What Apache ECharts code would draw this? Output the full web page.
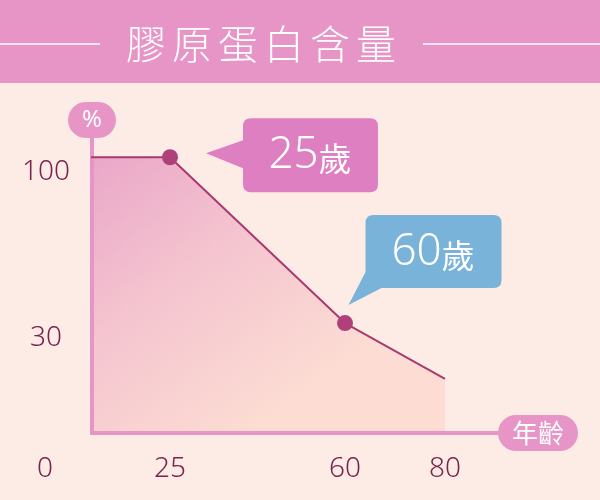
<!DOCTYPE html>
<html>
<head>
<meta charset="utf-8">
<title>膠原蛋白含量</title>
<script src="https://cdn.jsdelivr.net/npm/echarts@6/dist/echarts.min.js"></script>
<style>
html, body { margin: 0; padding: 0; background: #fdebe5; }
#main { width: 600px; height: 500px; }
</style>
</head>
<body>
<div id="main"></div>
<script>
// 数据
var titleText = '膠原蛋白含量';
var ages = [0, 25, 60, 80];
var percents = [100, 100, 30, 20];
var markedAges = [25, 60];
var xTicks = [25, 60, 80];
var yTicks = [30, 100];
var calloutTexts = ['25', '60'];
var calloutUnit = '歲';

var numFont = '"Noto Sans", "Noto Sans CJK TC", sans-serif';
var cjkFont = '"Noto Sans CJK TC", sans-serif';
var pink = '#e795c7';
var labelColor = '#7a2350';

var myChart = echarts.init(document.getElementById('main'));

// 折线数据, 只在有说明框的年龄上画圆点
var lineData = ages.map(function (a, i) {
    return {
        value: [a, percents[i]],
        symbol: markedAges.indexOf(a) >= 0 ? 'circle' : 'none'
    };
});

// 对话框 (带尖角) 的形状
var bubblePaths = [
    'path://M45 0H164Q172 0 172 8V66Q172 74 164 74H45Q37 74 37 66V50L0 35L37 22V8Q37 0 45 0Z',
    'path://M25 0H145Q153 0 153 8V65Q153 73 145 73H33L0 90L17 57V8Q17 0 25 0Z'
];
var bubbleStyle = [
    { size: [172, 74], offset: [122, -2], color: '#de7fc1', labelOffset: [18, 0] },
    { size: [153, 90], offset: [80, -63], color: '#7ab3d9', labelOffset: [8, -8] }
];

var markData = markedAges.map(function (a, i) {
    var b = bubbleStyle[i];
    return {
        coord: [a, percents[ages.indexOf(a)]],
        symbol: bubblePaths[i],
        symbolSize: b.size,
        symbolOffset: b.offset,
        itemStyle: { color: b.color },
        label: {
            show: true,
            offset: b.labelOffset,
            formatter: '{n|' + calloutTexts[i] + '}{u|' + calloutUnit + '}'
        }
    };
});

// 标题字间距
var titleRich = titleText.split('').map(function (c) {
    return '{c|' + c + '}';
}).join('');

var option = {
    animation: false,
    backgroundColor: '#fdebe5',
    title: {
        text: titleRich,
        left: 118,
        top: 16,
        textStyle: {
            rich: {
                c: {
                    color: '#fff',
                    fontFamily: cjkFont,
                    fontWeight: 300,
                    fontSize: 40,
                    lineHeight: 46,
                    padding: [0, 3, 0, 3]
                }
            }
        }
    },
    graphic: [
        { type: 'rect', z: -1, shape: { x: 0, y: 0, width: 600, height: 83 }, style: { fill: pink } },
        { type: 'line', shape: { x1: 0, y1: 44, x2: 100, y2: 44 }, style: { stroke: '#fff', lineWidth: 1.5 } },
        { type: 'line', shape: { x1: 423, y1: 44, x2: 600, y2: 44 }, style: { stroke: '#fff', lineWidth: 1.5 } },
        // 原点的 0
        {
            type: 'text', x: 45, y: 469,
            style: {
                text: '0', fill: labelColor, font: '300 28px ' + numFont,
                align: 'center', verticalAlign: 'middle'
            }
        }
    ],
    grid: { left: 92, right: 102, top: 138, bottom: 67 },
    xAxis: {
        type: 'value',
        min: 9.4,
        max: 90.6,
        z: 3,
        name: '年齡',
        nameLocation: 'end',
        nameGap: 0,
        nameTextStyle: {
            color: '#fff',
            fontFamily: cjkFont,
            fontSize: 26,
            lineHeight: 30,
            backgroundColor: pink,
            borderRadius: 18,
            padding: [3, 14, 3, 14],
            verticalAlign: 'middle'
        },
        axisLine: { lineStyle: { color: pink, width: 4 } },
        axisTick: { show: false },
        splitLine: { show: false },
        axisLabel: {
            customValues: xTicks,
            margin: 22,
            color: labelColor,
            fontFamily: numFont,
            fontWeight: 300,
            fontSize: 28
        }
    },
    yAxis: {
        type: 'log',
        logBase: 10,
        min: 13.5,
        max: 115,
        z: 3,
        name: '%',
        nameLocation: 'end',
        nameGap: 0,
        nameTextStyle: {
            color: '#fff',
            fontFamily: numFont,
            fontSize: 24,
            lineHeight: 30,
            backgroundColor: pink,
            borderRadius: 18,
            padding: [3, 14, 3, 14]
        },
        axisLine: { show: true, lineStyle: { color: pink, width: 4 } },
        axisTick: { show: false },
        splitLine: { show: false },
        axisLabel: {
            customValues: yTicks,
            margin: 46,
            align: 'center',
            verticalAlign: 'top',
            lineHeight: 30,
            color: labelColor,
            fontFamily: numFont,
            fontWeight: 300,
            fontSize: 28
        }
    },
    series: [{
        type: 'line',
        data: lineData,
        symbolSize: 16,
        lineStyle: { color: '#a83a70', width: 2 },
        itemStyle: { color: '#b0407a' },
        areaStyle: {
            origin: 'start',
            opacity: 1,
            color: new echarts.graphic.LinearGradient(0, 0, 0.5, 1, [
                { offset: 0, color: '#e8a2c7' },
                { offset: 0.5, color: '#f4c3cf' },
                { offset: 1, color: '#fcdcd3' }
            ])
        },
        markPoint: {
            data: markData,
            label: {
                color: '#fff',
                rich: {
                    n: { fontFamily: numFont, fontWeight: 300, fontSize: 44, color: '#fff' },
                    u: { fontFamily: cjkFont, fontSize: 33, color: '#fff', padding: [6, 0, 0, 0] }
                }
            }
        }
    }]
};

myChart.setOption(option);
</script>
</body>
</html>
